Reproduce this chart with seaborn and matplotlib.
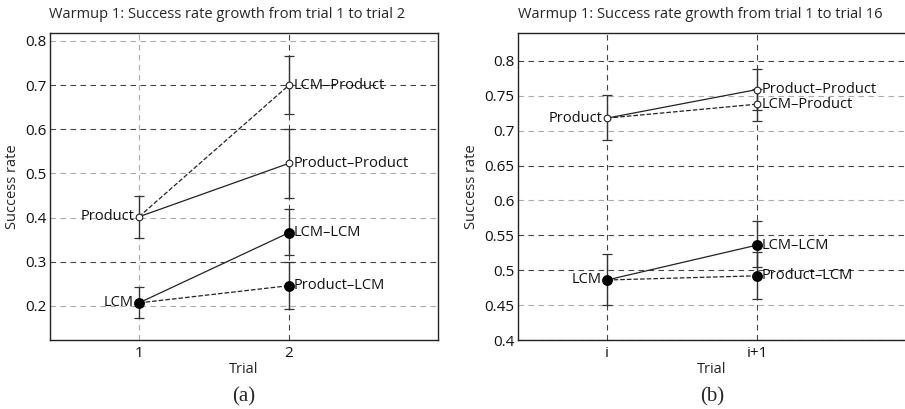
import matplotlib
matplotlib.use("Agg")
import matplotlib.pyplot as plt
import seaborn as sns
import pandas as pd

sns.set_style("white")
plt.rcParams['font.family'] = ['Open Sans', 'DejaVu Sans']

# ---------------- data ----------------
start_groups = ['Product', 'LCM']
conditions = ['LCM–Product', 'Product–Product', 'LCM–LCM', 'Product–LCM']
cond_from = ['Product', 'Product', 'LCM', 'LCM']
cond_style = ['--', '-', '-', '--']
cond_filled = [False, False, True, True]

# panel (a): trial 1 -> trial 2
a_start = [0.402, 0.207]
a_start_lo = [0.355, 0.173]
a_start_hi = [0.449, 0.242]
a_end = [0.700, 0.523, 0.366, 0.246]
a_end_lo = [0.634, 0.445, 0.316, 0.193]
a_end_hi = [0.765, 0.601, 0.419, 0.300]

# panel (b): trial i -> i+1
b_start = [0.718, 0.486]
b_start_lo = [0.687, 0.450]
b_start_hi = [0.751, 0.523]
b_end = [0.738, 0.759, 0.536, 0.492]
b_end_lo = [0.714, 0.729, 0.504, 0.459]
b_end_hi = [0.760, 0.789, 0.570, 0.526]

a_xticklabels = ['1', '2']
b_xticklabels = ['i', 'i+1']
a_yticks = [0.2, 0.3, 0.4, 0.5, 0.6, 0.7, 0.8]
b_yticks = [0.4, 0.45, 0.5, 0.55, 0.6, 0.65, 0.7, 0.75, 0.8]
titles = ['Warmup 1: Success rate growth from trial 1 to trial 2',
          'Warmup 1: Success rate growth from trial 1 to trial 16']
panel_tags = ['(a)', '(b)']

W, H = 905, 409
fig = plt.figure(figsize=(W / 100, H / 100), dpi=100)
ax_a = fig.add_axes([50 / W, (H - 340) / H, 388 / W, 307 / H])
ax_b = fig.add_axes([518 / W, (H - 340) / H, 388 / W, 307 / H])

TXT = 10.5


def draw(ax, s, s_lo, s_hi, e, e_lo, e_hi, xtl, yticks, ylim, dark_y, dark_x):
    x1, x2 = 1, 2
    # lines
    for i, c in enumerate(conditions):
        si = start_groups.index(cond_from[i])
        df = pd.DataFrame({'x': [x1, x2], 'y': [s[si], e[i]]})
        sns.lineplot(data=df, x='x', y='y', ax=ax, color='#222222',
                     linestyle=cond_style[i], linewidth=0.9, zorder=3)
    # error bars
    ax.errorbar([x1] * 2, s, yerr=[[v - l for v, l in zip(s, s_lo)],
                                    [h - v for v, h in zip(s, s_hi)]],
                fmt='none', ecolor='#333333', elinewidth=1.0, capsize=3.5,
                capthick=0.9, zorder=2)
    ax.errorbar([x2] * 4, e, yerr=[[v - l for v, l in zip(e, e_lo)],
                                    [h - v for v, h in zip(e, e_hi)]],
                fmt='none', ecolor='#333333', elinewidth=1.0, capsize=3.5,
                capthick=0.9, zorder=2)
    # markers
    start_filled = [False, True]
    for i, g in enumerate(start_groups):
        if start_filled[i]:
            ax.plot(x1, s[i], 'o', color='black', markersize=6.8, zorder=5)
        else:
            ax.plot(x1, s[i], 'o', mfc='white', mec='#222222', mew=0.8,
                    markersize=4.8, zorder=5)
        ax.annotate(g, (x1, s[i]), xytext=(-3.5, 0), textcoords='offset points',
                    ha='right', va='center', fontsize=TXT, color='#111111')
    for i, c in enumerate(conditions):
        if cond_filled[i]:
            ax.plot(x2, e[i], 'o', color='black', markersize=6.8, zorder=5)
        else:
            ax.plot(x2, e[i], 'o', mfc='white', mec='#222222', mew=0.8,
                    markersize=4.8, zorder=5)
        ax.annotate(c, (x2, e[i]), xytext=(3, 0), textcoords='offset points',
                    ha='left', va='center', fontsize=TXT, color='#111111')

    ax.set_xlim(0.407, 2.993)
    ax.set_ylim(*ylim)
    ax.set_xticks([x1, x2])
    ax.set_xticklabels(xtl)
    ax.set_yticks(yticks)
    ax.set_yticklabels([('%g' % t) for t in yticks])
    ax.tick_params(direction='in', length=4, width=0.6, labelsize=11,
                   colors='#111111')
    ax.tick_params(axis='x', pad=4)
    ax.tick_params(axis='y', pad=2.5)
    ax.set_xlabel('Trial', fontsize=TXT, labelpad=1)
    ax.set_ylabel('Success rate', fontsize=TXT, labelpad=4)
    for sp in ax.spines.values():
        sp.set_color('#222222')
        sp.set_linewidth(1.0)
    ax.grid(True, linestyle=(0, (5, 4)), linewidth=0.8, color='#aaaaaa')
    ax.set_axisbelow(True)
    for t, gl in zip(yticks, ax.get_ygridlines()):
        if any(abs(t - d) < 1e-9 for d in dark_y):
            gl.set_color('#444444')
    for j, gl in enumerate(ax.get_xgridlines()):
        if j in dark_x:
            gl.set_color('#444444')


draw(ax_a, a_start, a_start_lo, a_start_hi, a_end, a_end_lo, a_end_hi,
     a_xticklabels, a_yticks, (0.123, 0.818), [0.3, 0.6, 0.7], [1])
draw(ax_b, b_start, b_start_lo, b_start_hi, b_end, b_end_lo, b_end_hi,
     b_xticklabels, b_yticks, (0.4, 0.84), [0.4, 0.5, 0.55, 0.65, 0.8], [0, 1])

fig.text(227 / W, 1 - 15 / H, titles[0], ha='center', va='center', fontsize=10.5)
fig.text(700 / W, 1 - 15 / H, titles[1], ha='center', va='center', fontsize=10.5)
fig.text(244 / W, 1 - 397 / H, panel_tags[0], ha='center', va='center',
         fontsize=15, family=['Liberation Serif'])
fig.text(712 / W, 1 - 397 / H, panel_tags[1], ha='center', va='center',
         fontsize=15, family=['Liberation Serif'])

fig.savefig('out.png', dpi=100)
